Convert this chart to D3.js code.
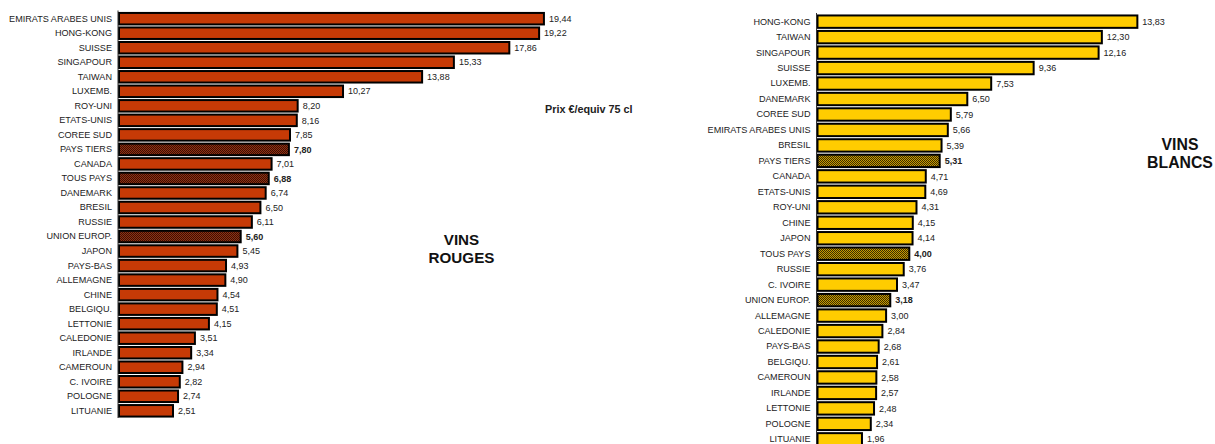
<!DOCTYPE html>
<html><head><meta charset="utf-8">
<script src="https://cdn.jsdelivr.net/npm/d3@7"></script>
<style>
html,body{margin:0;padding:0;background:#fff;}
svg{display:block;font-family:"Liberation Sans",Arial,sans-serif;}
</style></head>
<body>
<svg id="c" width="1215" height="444"></svg>
<script>
const rougesPays = ["EMIRATS ARABES UNIS","HONG-KONG","SUISSE","SINGAPOUR","TAIWAN","LUXEMB.","ROY-UNI","ETATS-UNIS","COREE SUD","PAYS TIERS","CANADA","TOUS PAYS","DANEMARK","BRESIL","RUSSIE","UNION EUROP.","JAPON","PAYS-BAS","ALLEMAGNE","CHINE","BELGIQU.","LETTONIE","CALEDONIE","IRLANDE","CAMEROUN","C. IVOIRE","POLOGNE","LITUANIE"];
const rougesPrix = [19.44,19.22,17.86,15.33,13.88,10.27,8.20,8.16,7.85,7.80,7.01,6.88,6.74,6.50,6.11,5.60,5.45,4.93,4.90,4.54,4.51,4.15,3.51,3.34,2.94,2.82,2.74,2.51];
const blancsPays = ["HONG-KONG","TAIWAN","SINGAPOUR","SUISSE","LUXEMB.","DANEMARK","COREE SUD","EMIRATS ARABES UNIS","BRESIL","PAYS TIERS","CANADA","ETATS-UNIS","ROY-UNI","CHINE","JAPON","TOUS PAYS","RUSSIE","C. IVOIRE","UNION EUROP.","ALLEMAGNE","CALEDONIE","PAYS-BAS","BELGIQU.","CAMEROUN","IRLANDE","LETTONIE","POLOGNE","LITUANIE"];
const blancsPrix = [13.83,12.30,12.16,9.36,7.53,6.50,5.79,5.66,5.39,5.31,4.71,4.69,4.31,4.15,4.14,4.00,3.76,3.47,3.18,3.00,2.84,2.68,2.61,2.58,2.57,2.48,2.34,1.96];
const agregats = ["PAYS TIERS","TOUS PAYS","UNION EUROP."];

const svg = d3.select("#c");
const defs = svg.append("defs");
function checker(id, bg, fg){
  const p = defs.append("pattern").attr("id",id).attr("width",2).attr("height",2).attr("patternUnits","userSpaceOnUse");
  p.append("rect").attr("width",2).attr("height",2).attr("fill",bg);
  p.append("rect").attr("width",1).attr("height",1).attr("fill",fg);
  p.append("rect").attr("x",1).attr("y",1).attr("width",1).attr("height",1).attr("fill",fg);
}
checker("hr","#923010","#3a1006");
checker("hy","#c89a00","#3a2c00");

const fmt = v => v.toFixed(2).replace(".",",");

function panel(cfg){
  const y = d3.scaleBand().domain(cfg.pays).range(cfg.yr).paddingInner(0.07).paddingOuter(0.03);
  const x = d3.scaleLinear().domain([0,cfg.max]).range(cfg.xr);
  const g = svg.append("g");
  const data = cfg.pays.map((p,i)=>({p, v:cfg.prix[i]}));
  g.selectAll("rect.bar").data(data).join("rect").attr("class","bar")
    .attr("x", x(0)+1).attr("y", d=>y(d.p)+1)
    .attr("width", d=>x(d.v)-x(0)-1).attr("height", y.bandwidth()-2)
    .attr("fill", d=>agregats.includes(d.p) ? `url(#${cfg.hatch})` : cfg.color)
    .attr("stroke","#000").attr("stroke-width",2);
  g.selectAll("text.val").data(data).join("text").attr("class","val")
    .attr("x", d=>x(d.v)+5).attr("y", d=>y(d.p)+y.bandwidth()/2)
    .attr("dy","0.35em").attr("font-size","9px").attr("fill","#222")
    .attr("font-weight", d=>agregats.includes(d.p)?"bold":"normal")
    .text(d=>fmt(d.v));
  const ax = g.append("g").attr("transform",`translate(${x(0)},0)`)
    .call(d3.axisLeft(y).tickSize(0).tickPadding(6));
  ax.select(".domain").attr("stroke","#333").attr("stroke-width",1).attr("d",`M0,${cfg.yr[0]-1}V${cfg.yr[1]}`);
  ax.selectAll("text").attr("font-size","9.1px").attr("fill","#222").attr("font-family","Liberation Sans, Arial, sans-serif");
}

panel({pays:rougesPays, prix:rougesPrix, yr:[11.5,418], xr:[118,118+20*21.91], max:20, color:"#c63a06", hatch:"hr"});
panel({pays:blancsPays, prix:blancsPrix, yr:[14,447], xr:[816.5,816.5+14*23.2], max:14, color:"#ffcc00", hatch:"hy"});

svg.append("text").attr("x",545).attr("y",113).attr("font-size","10.8px").attr("font-weight","bold").attr("fill","#222").text("Prix €/equiv 75 cl");
const t1 = svg.append("text").attr("text-anchor","middle").attr("font-size","15.2px").attr("font-weight","bold").attr("fill","#111");
t1.append("tspan").attr("x",461.5).attr("y",245).text("VINS");
t1.append("tspan").attr("x",461.5).attr("y",263).text("ROUGES");
const t2 = svg.append("text").attr("text-anchor","middle").attr("font-size","15.8px").attr("font-weight","bold").attr("fill","#111");
t2.append("tspan").attr("x",1180).attr("y",150).text("VINS");
t2.append("tspan").attr("x",1180).attr("y",168).text("BLANCS");
</script>
</body></html>
